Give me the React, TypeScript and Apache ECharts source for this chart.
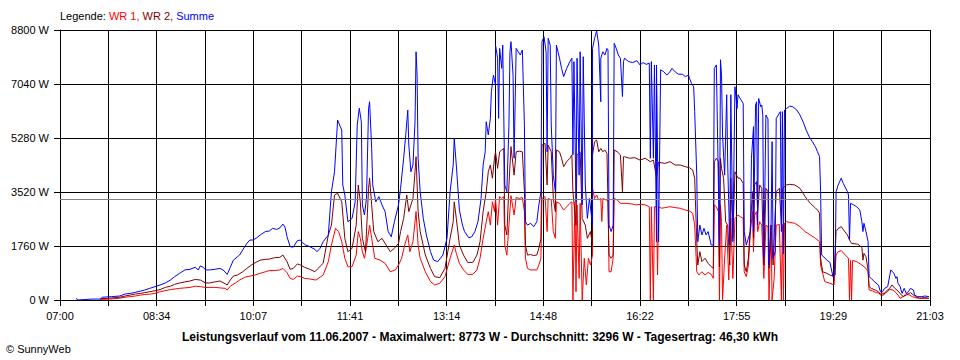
import React, { useEffect, useRef } from "react";
import * as echarts from "echarts";

// x axis tick labels (every second grid line)
const xTickLabels = ["07:00", "08:34", "10:07", "11:41", "13:14", "14:48", "16:22", "17:55", "19:29", "21:03"];
const dayLengthMinutes = 843; // 07:00 .. 21:03
const gridSteps = 18;

const yMax = 8800;
const yStep = 1760;
const averageW = 3296;

const legendPrefix = "Legende: ";
const seriesNames = ["WR 1", "WR 2", "Summe"];
const footerText = "Leistungsverlauf vom 11.06.2007 - Maximalwert: 8773 W - Durchschnitt: 3296 W - Tagesertrag: 46,30 kWh";
const copyrightText = "© SunnyWeb";

// [minutes after 07:00, watts]
const wr1: [number, number][] = [[39,20],[48,30],[58,60],[63,90],[68,110],[73,130],[78,160],[82,180],[87,190],[92,215],[97,270],[107,340],[116,380],[126,410],[131,450],[136,435],[141,410],[150,410],[160,380],[162,325],[165,450],[170,555],[174,650],[179,740],[184,780],[189,815],[194,870],[199,920],[203,960],[208,960],[213,980],[216,1030],[220,890],[223,705],[226,670],[230,780],[233,760],[237,705],[242,685],[248,650],[255,815],[260,1250],[263,1790],[267,2335],[270,2230],[273,1900],[276,1360],[279,1085],[283,1085],[287,1465],[289,2230],[291,2010],[293,1575],[295,1360],[297,1740],[300,2440],[302,2010],[305,1360],[310,1300],[315,1195],[320,920],[325,980],[328,1140],[331,1360],[334,1790],[337,2120],[339,1575],[342,1900],[345,2880],[347,1790],[349,1360],[354,920],[359,600],[363,490],[368,545],[373,760],[378,1360],[382,1790],[384,1520],[387,1195],[391,980],[395,835],[400,835],[404,980],[407,1360],[410,2010],[413,2550],[415,2880],[417,2440],[419,3200],[421,2880],[422,3310],[424,2440],[426,3370],[428,3310],[430,3370],[431,1790],[433,1465],[435,2440],[437,3400],[440,2770],[442,3340],[445,3310],[448,3340],[450,2880],[451,1360],[453,1030],[456,980],[462,980],[464,1140],[466,1360],[467,3310],[470,3370],[472,2230],[473,3310],[476,3260],[478,2230],[480,2010],[481,3200],[484,3150],[486,3040],[488,2930],[491,3040],[494,3150],[496,3200],[497,0],[499,3200],[500,270],[501,3100],[503,705],[504,3150],[506,0],[508,1360],[510,490],[512,1360],[514,1140],[516,1465],[516,3640],[518,3310],[520,3420],[522,3260],[524,3310],[525,2560],[526,3310],[529,3260],[531,3260],[532,920],[534,920],[536,1360],[537,3310],[540,3260],[543,3150],[549,3150],[554,3130],[558,3100],[563,3120],[567,3100],[571,3040],[572,0],[573,3040],[575,0],[576,3040],[578,3040],[579,815],[580,3040],[583,2990],[586,3010],[591,3040],[596,3010],[601,2990],[606,2930],[610,2900],[613,2830],[615,2440],[617,920],[619,815],[622,920],[625,815],[628,900],[631,835],[633,705],[634,3100],[636,3040],[638,2880],[639,0],[640,3100],[641,2550],[642,0],[644,1360],[646,2440],[648,650],[650,2660],[652,705],[654,2660],[657,2770],[659,2720],[662,2660],[663,920],[665,760],[667,1140],[669,2230],[671,2880],[672,1575],[673,2770],[675,2880],[676,2230],[678,2550],[680,2440],[682,705],[684,2440],[686,2390],[687,0],[689,2440],[690,0],[692,705],[694,2440],[697,2460],[699,0],[700,2460],[701,0],[702,2500],[704,2550],[707,2530],[712,2500],[717,2390],[722,2230],[727,2120],[732,2010],[736,1900],[737,1140],[739,870],[741,600],[746,545],[750,490],[752,1465],[754,1575],[757,1610],[761,1465],[764,1360],[765,0],[766,1290],[767,0],[768,1290],[772,1250],[777,1140],[781,1030],[783,920],[784,325],[787,300],[791,240],[795,215],[799,215],[802,270],[804,350],[807,325],[809,270],[812,160],[814,55],[817,110],[820,215],[823,160],[826,110],[828,80],[833,55],[842,55]];

const wr2: [number, number][] = [[39,40],[48,60],[58,90],[63,130],[68,160],[73,195],[78,215],[82,240],[87,270],[92,300],[97,340],[102,410],[107,450],[111,510],[116,555],[121,590],[126,620],[131,670],[136,650],[141,555],[145,555],[150,590],[155,620],[160,530],[162,490],[165,650],[168,780],[172,815],[177,920],[181,1030],[187,1175],[194,1300],[199,1325],[203,1335],[208,1380],[213,1390],[216,1465],[220,1250],[223,1000],[226,1030],[230,1175],[233,1140],[237,1065],[242,1000],[247,920],[250,1030],[255,1195],[260,2120],[263,2440],[266,3420],[269,3480],[273,3200],[276,2010],[279,1575],[283,1685],[287,2440],[289,3750],[291,3200],[293,2010],[296,1575],[297,2230],[299,3640],[300,3970],[302,3100],[304,2230],[308,1900],[312,2010],[316,1790],[320,1575],[324,1685],[328,1845],[330,2230],[333,2660],[336,3420],[338,2880],[342,3310],[344,4180],[345,4670],[347,2880],[349,2230],[354,1465],[359,1030],[363,760],[368,730],[373,1030],[378,2010],[381,2550],[382,3200],[384,2660],[387,1790],[391,1465],[395,1225],[400,1225],[404,1465],[407,1900],[410,2880],[413,3530],[415,4180],[417,4400],[419,3970],[421,4620],[422,4830],[424,4290],[426,4830],[428,4890],[430,4940],[431,2440],[433,2120],[435,3750],[437,5000],[440,4070],[442,4830],[445,4850],[448,4830],[450,3530],[451,1790],[453,1465],[456,1480],[459,1450],[462,1465],[464,1685],[466,2010],[467,5050],[470,5105],[472,3750],[473,5050],[476,4830],[478,3310],[480,2880],[481,4890],[484,4830],[486,4620],[488,4345],[491,4510],[494,4620],[496,4730],[497,3530],[500,2440],[501,4730],[504,4830],[506,2660],[509,2440],[511,2010],[514,2230],[516,1790],[516,4730],[518,5160],[520,5215],[522,4830],[524,4940],[526,4830],[528,4890],[530,4780],[532,1465],[534,1360],[536,1465],[537,4890],[540,4830],[543,4730],[545,3530],[546,4670],[547,4670],[552,4620],[557,4640],[562,4560],[567,4620],[572,4510],[575,4560],[578,4000],[580,4490],[586,4450],[591,4510],[596,4400],[601,4400],[606,4345],[610,4310],[613,4240],[615,3970],[617,1900],[618,1140],[620,1575],[622,1250],[625,1360],[628,1195],[631,1085],[633,1030],[634,4510],[636,4620],[638,4510],[639,1085],[640,4620],[641,4290],[643,3970],[645,2550],[647,2440],[649,1140],[650,3970],[652,2010],[654,4180],[657,3970],[659,3970],[662,3800],[663,1140],[665,920],[667,1360],[669,2440],[671,3530],[672,2010],[673,3750],[675,3860],[676,2880],[678,3750],[680,3640],[682,1140],[684,3640],[686,3530],[687,1030],[689,2440],[691,1140],[693,2880],[694,3530],[697,3640],[699,2440],[700,3640],[702,3700],[704,3750],[707,3770],[712,3750],[717,3640],[722,3370],[727,3150],[732,3000],[734,2930],[736,2830],[737,1360],[739,920],[743,870],[746,815],[750,760],[752,2230],[754,2330],[757,2390],[760,2250],[763,2120],[765,1955],[767,1845],[773,1820],[777,1715],[778,1300],[779,1520],[781,1410],[783,980],[784,435],[786,380],[790,325],[793,270],[795,160],[798,160],[800,270],[804,380],[806,490],[809,380],[811,325],[814,215],[817,110],[820,160],[824,240],[827,160],[829,110],[833,55],[838,80],[842,55]];

const summe: [number, number][] = [[16,60],[17,0],[31,30],[39,30],[41,90],[50,110],[58,130],[63,195],[68,215],[73,250],[78,290],[82,325],[87,380],[92,435],[97,490],[102,555],[107,650],[111,760],[116,870],[121,980],[126,1000],[131,1065],[134,980],[136,1110],[139,1065],[141,980],[145,980],[150,1000],[155,1030],[158,980],[162,835],[165,1065],[168,1300],[172,1410],[174,1465],[177,1630],[181,1845],[184,1955],[187,1955],[190,2010],[194,2120],[199,2230],[203,2250],[206,2335],[210,2300],[213,2350],[216,2475],[218,2380],[220,2060],[223,1740],[226,1720],[230,1935],[233,1955],[235,1870],[238,1790],[242,1740],[247,1650],[249,1575],[252,1685],[255,1900],[260,2120],[263,3530],[266,4180],[269,5865],[271,5700],[273,5540],[274,3750],[276,3420],[279,2550],[283,2660],[286,3200],[288,5700],[290,6250],[292,5810],[293,3100],[295,2770],[297,3320],[299,6250],[300,6460],[302,4940],[303,3750],[306,3200],[309,3370],[312,3100],[315,2880],[318,2230],[321,2060],[324,2550],[328,3100],[330,3640],[333,4620],[335,5380],[337,6190],[338,5050],[340,4180],[342,4400],[344,5810],[345,8090],[346,7330],[347,4620],[349,3530],[352,2660],[355,2120],[359,1575],[362,1300],[366,1250],[371,1465],[375,2010],[378,3530],[381,4400],[382,5270],[384,4400],[387,2930],[390,2440],[392,2230],[396,2030],[399,2060],[402,2230],[405,2550],[408,3310],[410,4400],[412,4830],[413,5810],[415,5380],[417,5920],[418,6790],[420,7330],[422,7000],[422,8310],[424,7880],[425,5920],[426,8200],[428,7550],[429,8310],[431,3750],[433,3530],[435,5700],[436,8090],[437,8420],[439,7330],[440,4620],[442,8200],[444,8090],[446,7985],[448,8150],[450,5700],[451,2550],[453,2440],[456,2500],[459,2390],[462,2550],[464,3100],[466,3530],[467,8420],[469,8580],[471,8090],[472,4830],[473,8530],[475,8310],[476,5700],[478,4070],[480,3530],[481,8310],[484,7880],[486,7550],[488,7280],[491,7550],[494,7770],[496,7880],[497,4730],[498,7770],[500,3200],[501,7880],[503,4070],[504,8090],[506,3100],[507,7930],[509,3750],[511,2660],[513,3310],[516,2440],[516,8200],[518,8530],[520,8773],[522,8310],[524,6460],[524,7880],[526,8090],[528,7985],[530,8200],[531,8150],[532,2440],[534,2230],[536,2440],[537,8365],[539,8200],[541,7985],[543,7880],[545,6630],[546,7770],[547,7880],[551,7770],[555,7740],[559,7800],[562,7660],[565,7740],[568,7680],[571,7720],[572,4620],[573,7770],[575,4620],[576,7660],[578,1900],[578,7660],[580,1900],[582,7500],[585,7440],[588,7330],[591,7440],[593,7550],[596,7440],[599,7360],[603,7360],[606,7280],[609,7330],[610,7220],[612,7060],[614,6950],[615,6140],[617,4070],[618,1900],[620,2440],[622,2120],[624,2335],[626,2120],[628,2230],[631,1790],[633,1790],[634,7550],[636,7660],[637,5700],[639,1790],[640,7830],[641,7330],[642,5380],[644,4070],[646,6690],[647,4400],[649,1790],[650,6690],[652,1900],[654,6950],[656,6240],[657,6690],[659,6570],[662,6410],[663,2230],[665,1790],[667,2010],[669,2230],[670,4620],[672,5650],[672,2230],[674,6355],[675,6460],[676,2440],[677,6570],[679,6300],[680,6355],[681,6030],[682,1360],[684,6030],[686,5900],[687,1140],[689,2440],[690,5160],[691,1360],[693,1575],[694,5920],[696,6030],[698,6140],[699,2230],[700,6140],[701,1500],[702,6190],[704,6240],[707,6320],[710,6300],[714,6190],[717,6030],[720,5810],[723,5540],[726,5320],[729,5160],[732,4995],[734,4830],[736,4670],[737,3530],[738,1465],[740,1410],[743,1300],[746,1225],[749,760],[751,815],[752,3530],[754,3750],[757,3970],[759,3800],[763,3530],[764,3420],[765,1955],[766,3150],[769,3100],[772,3040],[775,2930],[777,2550],[778,2230],[779,2500],[781,2230],[783,1900],[784,760],[786,705],[789,600],[793,490],[795,270],[797,270],[799,380],[802,435],[805,980],[808,870],[810,705],[811,760],[812,545],[814,435],[816,215],[818,380],[820,215],[822,270],[824,380],[827,325],[828,160],[831,110],[835,110],[838,130],[842,110]];

const FONT = "'Liberation Sans', Arial, sans-serif";
const colors = ["#ff0000", "#800000", "#0000ff"];

export default function App() {
  const ref = useRef<HTMLDivElement>(null);
  useEffect(() => {
    document.body.style.margin = "0";
    if (!ref.current) return;
    const chart = echarts.init(ref.current, undefined, { renderer: "svg" });
    const totalSec = dayLengthMinutes * 60;
    const stepSec = totalSec / gridSteps;
    const toSec = (arr: [number, number][]) => arr.map(([m, w]) => [m * 60, w]);
    const lineSeries = (name: string, data: [number, number][], color: string, extra: any = {}) => ({
      name,
      type: "line",
      data: toSec(data),
      showSymbol: false,
      symbol: "none",
      silent: true,
      lineStyle: { color, width: 1 },
      emphasis: { disabled: true },
      ...extra,
    });
    chart.setOption({
      animation: false,
      backgroundColor: "#ffffff",
      textStyle: { fontFamily: FONT },
      grid: { left: 60, right: 30, top: 30, bottom: 60 },
      xAxis: {
        type: "value",
        min: 0,
        max: totalSec,
        interval: stepSec,
        axisLine: { show: true, lineStyle: { color: "#000", width: 1 } },
        axisTick: { show: true, length: 6, lineStyle: { color: "#000" } },
        axisLabel: {
          color: "#000",
          fontSize: 11,
          fontFamily: FONT,
          margin: 10,
          showMinLabel: true,
          showMaxLabel: true,
          formatter: (v: number) => {
            const i = Math.round(v / stepSec);
            return i % 2 === 0 ? xTickLabels[i / 2] ?? "" : "";
          },
        },
        splitLine: { show: true, lineStyle: { color: "#000", width: 1 } },
      },
      yAxis: {
        type: "value",
        min: 0,
        max: yMax,
        interval: yStep,
        axisLine: { show: true, lineStyle: { color: "#000", width: 1 } },
        axisTick: { show: true, length: 6, lineStyle: { color: "#000" } },
        axisLabel: {
          color: "#000",
          fontSize: 11,
          fontFamily: FONT,
          margin: 11,
          formatter: (v: number) => `${Math.round(v)} W`,
        },
        splitLine: { show: true, lineStyle: { color: "#000", width: 1 } },
      },
      series: [
        lineSeries(seriesNames[0], wr1, colors[0], {
          markLine: {
            silent: true,
            symbol: "none",
            label: { show: false },
            lineStyle: { color: "#808080", type: "solid", width: 1 },
            data: [{ yAxis: averageW }],
          },
        }),
        lineSeries(seriesNames[1], wr2, colors[1]),
        lineSeries(seriesNames[2], summe, colors[2]),
      ],
      graphic: [
        {
          type: "text",
          left: 60,
          top: 10,
          style: {
            text: `{k|${legendPrefix}}{a|${seriesNames[0]}, }{b|${seriesNames[1]}, }{c|${seriesNames[2]}}`,
            font: `11px ${FONT}`,
            rich: {
              k: { fill: "#000", fontSize: 11, fontFamily: FONT },
              a: { fill: colors[0], fontSize: 11, fontFamily: FONT },
              b: { fill: colors[1], fontSize: 11, fontFamily: FONT },
              c: { fill: colors[2], fontSize: 11, fontFamily: FONT },
            },
          },
        },
        {
          type: "text",
          x: 480,
          y: 337,
          style: {
            text: footerText,
            fill: "#000",
            font: `bold 12px ${FONT}`,
            textAlign: "center",
            textVerticalAlign: "middle",
          },
        },
        {
          type: "text",
          x: 6,
          y: 349,
          style: {
            text: copyrightText,
            fill: "#000",
            font: `11px ${FONT}`,
            textAlign: "left",
            textVerticalAlign: "middle",
          },
        },
      ],
    });
    return () => chart.dispose();
  }, []);
  return <div ref={ref} style={{ width: 960, height: 360 }} />;
}
